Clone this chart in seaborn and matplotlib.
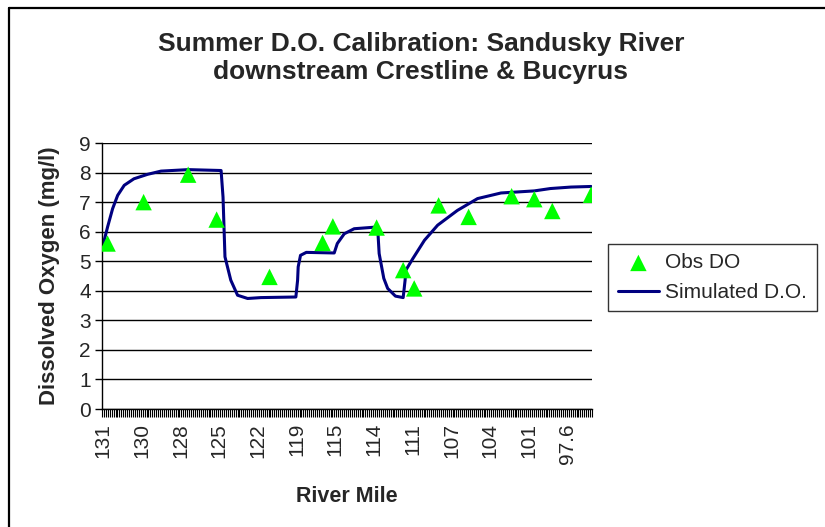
import matplotlib
matplotlib.use("Agg")
import matplotlib.pyplot as plt
import pandas as pd
import seaborn as sns
from matplotlib.lines import Line2D

# category axis: river mile labels shown every 20th category
n_categories = 253
label_every = 20
tick_labels = ["131", "130", "128", "125", "122", "119", "115",
               "114", "111", "107", "104", "101", "97.6"]

# simulated D.O. (category index, mg/l)
sim_index = [0, 2.4, 5, 7.6, 11, 16, 23, 30, 44, 61, 62, 63, 66, 69.5, 74.7,
             81.6, 99.6, 100.5, 100.8, 102, 105, 119.4, 121, 124.6, 129.7,
             141.8, 142.6, 145, 147, 151, 155, 156, 156.4, 160, 166, 172.8,
             183, 193.4, 205.5, 222.7, 231, 241.6, 252]
sim_do = [5.54, 6.16, 6.78, 7.23, 7.57, 7.79, 7.94, 8.05, 8.10, 8.07, 7.17,
          5.15, 4.36, 3.85, 3.74, 3.77, 3.79, 4.36, 4.81, 5.2, 5.30, 5.28,
          5.6, 5.93, 6.10, 6.16, 5.26, 4.42, 4.08, 3.82, 3.77, 4.36, 4.7,
          5.09, 5.71, 6.22, 6.72, 7.12, 7.31, 7.38, 7.46, 7.51, 7.53]

# observed D.O.
obs_index = [2.4, 21, 44, 58.7, 86, 113.4, 118.7, 141.3, 155, 160.7,
             173.3, 188.8, 211, 222.7, 232, 252]
obs_do = [5.6, 7.0, 7.93, 6.41, 4.47, 5.62, 6.18, 6.14, 4.7, 4.08,
          6.89, 6.5, 7.2, 7.1, 6.7, 7.25]

sns.set_style("white")
plt.rcParams["font.family"] = ["Liberation Sans", "DejaVu Sans"]

sim = pd.DataFrame({"idx": sim_index, "do": sim_do})
obs = pd.DataFrame({"idx": obs_index, "do": obs_do})

fig = plt.figure(figsize=(8.25, 5.27), dpi=100)
ax = fig.add_axes([0.1236, 0.2239, 0.594, 0.5047])

sns.scatterplot(data=obs, x="idx", y="do", ax=ax, marker="^", s=140,
                color="#00ff00", edgecolor="none", label="Obs DO", zorder=3)
sns.lineplot(data=sim, x="idx", y="do", ax=ax, color="#000080",
             linewidth=2.2, label="Simulated D.O.", zorder=2)

ax.set_xlim(-0.5, n_categories - 0.5)
ax.set_ylim(0, 9)
ax.set_yticks(range(0, 10))
ax.yaxis.grid(True, color="black", linewidth=1)
ax.set_axisbelow(True)

major = [i * label_every for i in range(len(tick_labels))]
ax.set_xticks(major)
ax.set_xticklabels(tick_labels, rotation=90)
ax.set_xticks([i - 0.5 for i in range(n_categories + 1)], minor=True)
ax.tick_params(axis="x", which="major", length=0, pad=10, labelsize=15)
ax.tick_params(axis="x", which="minor", length=6, width=0.8,
               color="black", direction="out", bottom=True)
ax.tick_params(axis="y", length=5, width=1, color="black", left=True,
               labelsize=15, pad=3)

for side in ["top", "right"]:
    ax.spines[side].set_visible(False)
for side in ["left", "bottom"]:
    ax.spines[side].set_color("black")
    ax.spines[side].set_linewidth(1)

ax.set_xlabel("River Mile", fontsize=15.5, fontweight="bold", labelpad=16)
ax.set_ylabel("Dissolved Oxygen (mg/l)", fontsize=16, fontweight="bold",
              labelpad=14)
fig.text(0.51, 0.89, "Summer D.O. Calibration: Sandusky River\ndownstream Crestline & Bucyrus",
         ha="center", va="center", fontsize=19, fontweight="bold",
         linespacing=1.18)

leg = ax.legend(loc="center left", bbox_to_anchor=(1.033, 0.494),
                frameon=True, fancybox=False, fontsize=15,
                handlelength=2.0, borderpad=0.45, labelspacing=0.5,
                handletextpad=0.3, borderaxespad=0)
leg.get_frame().set_edgecolor("black")
leg.get_frame().set_linewidth(1)

# chart-area border (only top and left edges visible in the reference)
fig.add_artist(Line2D([0.0115, 0.0115], [0, 0.984], transform=fig.transFigure,
                      color="black", linewidth=1.6))
fig.add_artist(Line2D([0.0115, 1], [0.984, 0.984], transform=fig.transFigure,
                      color="black", linewidth=1.6))

fig.savefig("out.png", dpi=100)
